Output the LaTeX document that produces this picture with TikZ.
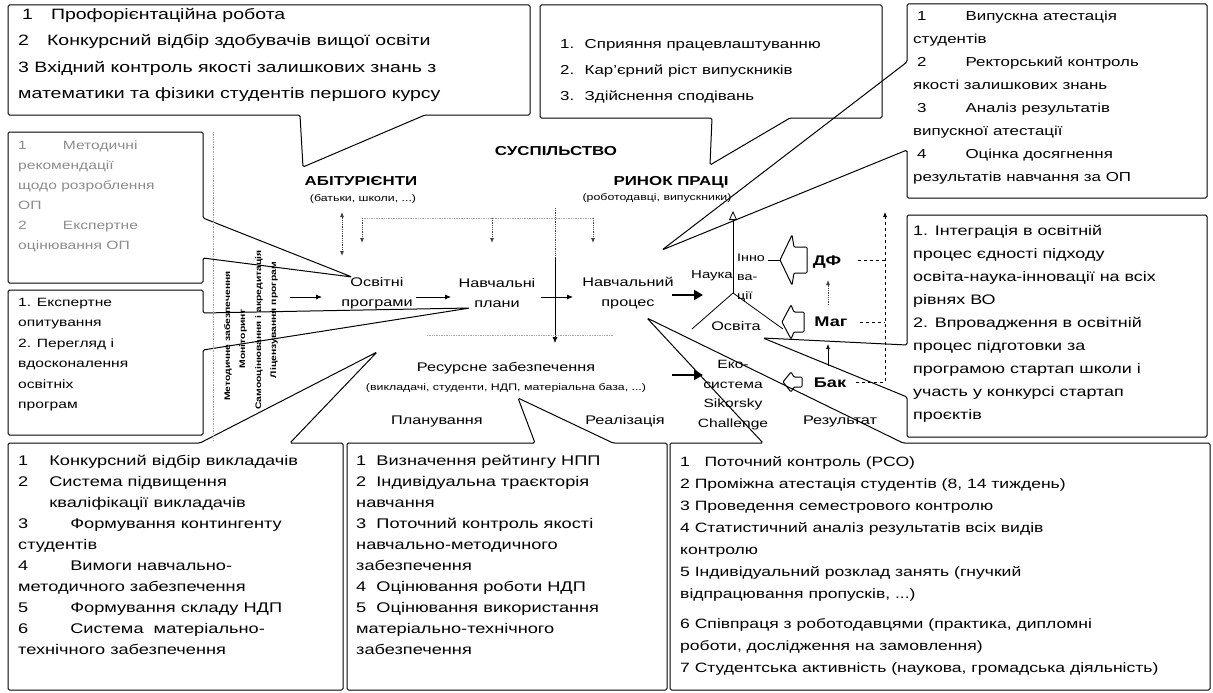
\documentclass[tikz,border=0pt]{standalone}
\usepackage{fontspec}
\setmainfont{Liberation Sans}
\newfontfamily\scanfont[FakeStretch=1.3]{Liberation Sans}
\usetikzlibrary{arrows.meta}
\begin{document}
\begin{tikzpicture}[x=1pt,y=-1pt,
  callout/.style={draw=black, line width=1pt, rounded corners=1.5pt},
  boxtext/.style={anchor=north west, inner sep=0pt, align=left, font=\scanfont\fontsize{14}{21}\selectfont},
  lbl/.style={inner sep=0pt, font=\scanfont\bfseries\fontsize{13}{15}\selectfont},
  biglbl/.style={inner sep=0pt, font=\scanfont\bfseries\fontsize{14}{16}\selectfont},
  smalltxt/.style={inner sep=0pt, font=\scanfont\fontsize{9.5}{11}\selectfont},
  proc/.style={inner sep=0pt, align=center, font=\scanfont\fontsize{12.5}{20}\selectfont},
  vtxt/.style={inner sep=0pt, rotate=90, font=\scanfont\bfseries\fontsize{8}{9}\selectfont},
  flow/.style={-{Latex[length=6pt,width=5pt]}, line width=0.8pt},
  fat/.style={-{Triangle[length=9pt,width=10pt]}, line width=2.6pt},
  dots/.style={densely dotted, line width=0.8pt, black!75},
  faint/.style={densely dotted, line width=0.7pt, black!35},
  dsh/.style={dashed, line width=0.7pt}]
\useasboundingbox (0,0) rectangle (1213,693);
\fill[white] (0,0) rectangle (1213,693);

% ---------- callout boxes ----------
\draw[callout] (8,5) -- (530,5) -- (530,115) -- (425,115) -- (303,167) -- (300,115) -- (8,115) -- cycle;
\draw[callout] (540,5) -- (882,5) -- (882,118) -- (790,118) -- (710,165) -- (712,118) -- (540,118) -- cycle;
\draw[callout] (907,4) -- (1207,4) -- (1207,198) -- (907,198) -- (907,150) -- (662,250) -- (907,62) -- cycle;
\draw[callout] (907,215) -- (1207,215) -- (1207,437) -- (907,437) -- (907,397) -- (763,338) -- (907,345) -- cycle;
\draw[callout] (8,132) -- (203,132) -- (203,218) -- (352,277) -- (203,258) -- (203,283) -- (8,283) -- cycle;
\draw[callout] (8,290) -- (203,290) -- (203,313) -- (470,308) -- (203,350) -- (203,435) -- (8,435) -- cycle;
\draw[callout] (8,443) -- (200,443) -- (377,352) -- (290,443) -- (343,443) -- (343,690) -- (8,690) -- cycle;
\draw[callout] (347,443) -- (535,443) -- (518,398) -- (613,443) -- (667,443) -- (667,690) -- (347,690) -- cycle;
\draw[callout] (670,443) -- (763,443) -- (647,318) -- (903,443) -- (1210,443) -- (1210,690) -- (670,690) -- cycle;

% ---------- box texts ----------
\node[boxtext, font=\scanfont\fontsize{15}{26.5}\selectfont] (tlt) at (18,8)
 {\hspace*{4pt}1\hspace{1.2em}Профорієнтаційна робота\\
  2\hspace{1.2em}Конкурсний відбір здобувачів вищої освіти\\
  3\ Вхідний контроль якості залишкових знань з\\
  математики та фізики студентів першого курсу};
\node[boxtext, font=\scanfont\fontsize{13}{26}\selectfont] (tmt) at (560,39)
 {1.\hspace{0.8em}Сприяння працевлаштуванню\\
  2.\hspace{0.8em}Кар’єрний ріст випускників\\
  3.\hspace{0.8em}Здійснення сподівань};
\node[boxtext, font=\scanfont\fontsize{13}{23}\selectfont] (trt) at (913,11)
 {\hspace*{4pt}1\hspace{3em}Випускна атестація\\
  студентів\\
  \hspace*{4pt}2\hspace{3em}Ректорський контроль\\
  якості залишкових знань\\
  \hspace*{4pt}3\hspace{3em}Аналіз результатів\\
  випускної атестації\\
  \hspace*{4pt}4\hspace{3em}Оцінка досягнення\\
  результатів навчання за ОП};
\node[boxtext, font=\scanfont\fontsize{13.8}{23}\selectfont] (rmt) at (913,225)
 {1. Інтеграція в освітній\\
  процес єдності підходу\\
  освіта-наука-інновації на всіх\\
  рівнях ВО\\
  2. Впровадження в освітній\\
  процес підготовки за\\
  програмою стартап школи і\\
  участь у конкурсі стартап\\
  проєктів};
\node[boxtext, text=black!45, font=\scanfont\fontsize{12}{20}\selectfont] (l1t) at (18,141)
 {1\hspace{3em}Методичні\\
  рекомендації\\
  щодо розроблення\\
  ОП\\
  2\hspace{3em}Експертне\\
  оцінювання ОП};
\node[boxtext, font=\scanfont\fontsize{12}{20.5}\selectfont] (l2t) at (18,298)
 {1. Експертне\\
  опитування\\
  2. Перегляд і\\
  вдосконалення\\
  освітніх\\
  програм};
\node[boxtext] (blt) at (18,455)
 {1\hspace{1.5em}Конкурсний відбір викладачів\\
  2\hspace{1.5em}Система підвищення\\
  \phantom{2}\hspace*{1.5em}кваліфікації викладачів\\
  3\hspace{3em}Формування контингенту\\
  студентів\\
  4\hspace{3em}Вимоги навчально-\\
  методичного забезпечення\\
  5\hspace{3em}Формування складу НДП\\
  6\hspace{3em}Система\ \ матеріально-\\
  технічного забезпечення};
\node[boxtext] (bmt) at (356,455)
 {1\ \ Визначення рейтингу НПП\\
  2\ \ Індивідуальна траєкторія\\
  навчання\\
  3\ \ Поточний контроль якості\\
  навчально-методичного\\
  забезпечення\\
  4\ \ Оцінювання роботи НДП\\
  5\ \ Оцінювання використання\\
  матеріально-технічного\\
  забезпечення};
\node[boxtext, font=\scanfont\fontsize{13.5}{22}\selectfont] (brt) at (680,456)
 {1\ \ \ Поточний контроль (РСО)\\
  2 Проміжна атестація студентів (8, 14 тиждень)\\
  3 Проведення семестрового контролю\\
  4 Статистичний аналіз результатів всіх видів\\
  контролю\\
  5 Індивідуальний розклад занять (гнучкий\\
  відпрацювання пропусків, ...)\\[8pt]
  6 Співпраця з роботодавцями (практика, дипломні\\
  роботи, дослідження на замовлення)\\
  7 Студентська активність (наукова, громадська діяльність)};

% ---------- central labels ----------
\node[lbl] (susp) at (556,151) {СУСПІЛЬСТВО};
\node[lbl] (abit) at (361,181) {АБІТУРІЄНТИ};
\node[smalltxt] (abitp) at (363,199) {(батьки, школи, ...)};
\node[lbl] (rynok) at (671,182) {РИНОК ПРАЦІ};
\node[smalltxt] (rynokp) at (657,198) {(роботодавці, випускники)};
\node[proc] (op) at (377,293) {Освітні\\програми};
\node[proc] (np) at (497,293) {Навчальні\\плани};
\node[proc] (npr) at (628,293) {Навчальний\\процес};
\node[proc, font=\scanfont\fontsize{11.5}{14}\selectfont] (nauka) at (712,276) {Наука};
\node[anchor=north west, inner sep=0pt, align=left, font=\scanfont\fontsize{11}{19}\selectfont] (inno) at (737,254) {Інно\\ва-\\ції};
\node[proc] (osvita) at (736,326) {Освіта};
\node[biglbl] (df) at (827,262) {ДФ};
\node[biglbl] (mag) at (831,322) {Маг};
\node[biglbl] (bak) at (830,383) {Бак};
\node[proc, font=\scanfont\fontsize{12}{19.5}\selectfont] (eko) at (733,395) {Еко-\\система\\Sikorsky\\Challenge};
\node[proc] (res) at (506,368) {Ресурсне забезпечення};
\node[smalltxt] (resp) at (506,388) {(викладачі, студенти, НДП, матеріальна база, ...)};
\node[proc] (plan) at (437,421) {Планування};
\node[proc] (real) at (625,421) {Реалізація};
\node[proc] (rez) at (840,421) {Результат};

% vertical labels in the left column
\node[vtxt] (v1) at (228,336) {Методичне забезпечення};
\node[vtxt] (v2) at (243,339) {Моніторинг};
\node[vtxt] (v3) at (259,330) {Самооцінювання і акредитація};
\node[vtxt] (v4) at (274,320) {Ліцензування програм};
\draw[faint] (213,132) -- (213,440);

% ---------- connectors ----------
\coordinate (opin0) at (290,297);
\coordinate (opin1) at (322,297);
\draw[flow] (opin0) -- (opin1);
\coordinate (a1s) at (416,297);
\coordinate (a1e) at (451,297);
\draw[flow] (a1s) -- (a1e);
\coordinate (a2s) at (541,297);
\coordinate (a2e) at (573,297);
\draw[flow] (a2s) -- (a2e);
\coordinate (a3s) at (672,295);
\coordinate (a3e) at (703,295);
\draw[fat] (a3s) -- (a3e);
\coordinate (a4s) at (672,375);
\coordinate (a4e) at (703,375);
\draw[fat] (a4s) -- (a4e);

% vertical line to resources
\coordinate (vtop) at (555,208);
\coordinate (vmid) at (555,258);
\coordinate (vend) at (555,343);
\draw[dots] (vtop) -- (vmid);
\draw[flow, line width=0.7pt] (vmid) -- (vend);

% dotted links from society
\coordinate (dA) at (342,212);
\coordinate (dB) at (342,256);
\draw[dots, {Latex[length=5pt,width=4pt]}-{Latex[length=5pt,width=4pt]}] (dA) -- (dB);
\coordinate (h1) at (362,218);
\coordinate (h2) at (492,218);
\coordinate (h3) at (593,218);
\draw[faint] (h1) -- (h3);
\coordinate (h1e) at (362,243);
\coordinate (h2e) at (492,243);
\coordinate (h3e) at (593,243);
\draw[dots, -{Latex[length=5pt,width=4pt]}] (h1) -- (h1e);
\draw[dots, -{Latex[length=5pt,width=4pt]}] (h2) -- (h2e);
\draw[dots, -{Latex[length=5pt,width=4pt]}] (h3) -- (h3e);
\coordinate (f1) at (427,335);
\coordinate (f2) at (613,335);
\draw[faint] (f1) -- (f2);

% tripod science / innovation / education
\coordinate (tri) at (733,293);
\coordinate (tritop) at (733,211);
\coordinate (trileft) at (692,329);
\coordinate (triright) at (783,329);
\draw[line width=0.8pt, -{Triangle[open,length=9pt,width=8pt]}] (tri) -- (tritop);
\draw[line width=0.8pt] (tri) -- (trileft);
\draw[line width=0.8pt] (tri) -- (triright);
\coordinate (innoR) at (768,260);
\coordinate (dfTip) at (780,260);
\draw[line width=0.8pt] (innoR) -- (dfTip);

% block arrows (outlines)
\draw[line width=1pt, rounded corners=1pt] (807,247) -- (794,247) -- (792,235) -- (780,260) -- (792,285) -- (794,273) -- (807,273) -- cycle;
\draw[line width=1pt, rounded corners=1pt] (804,312) -- (794,312) -- (791,305) -- (782,322) -- (791,339) -- (794,332) -- (804,332) -- cycle;
\draw[line width=1pt, rounded corners=1pt] (802,377) -- (794,377) -- (791,372) -- (783,382) -- (791,392) -- (794,387) -- (802,387) -- cycle;

% links between degrees
\coordinate (m1) at (828,305);
\coordinate (m2) at (828,280);
\draw[dots, -{Latex[length=5pt,width=4pt]}] (m1) -- (m2);
\coordinate (b1) at (828,366);
\coordinate (b2) at (828,344);
\draw[line width=0.7pt, -{Latex[length=5pt,width=4pt]}] (b1) -- (b2);
\coordinate (r0) at (885,382);
\coordinate (rtop) at (885,212);
\coordinate (rdf) at (858,260);
\coordinate (rdfj) at (885,260);
\coordinate (rmg) at (860,322);
\coordinate (rmgj) at (885,322);
\coordinate (rbk) at (856,382);
\draw[dsh, -{Latex[length=5pt,width=4pt]}] (rbk) -- (r0) -- (rtop);
\draw[dsh] (rdf) -- (rdfj);
\draw[dsh] (rmg) -- (rmgj);
\end{tikzpicture}
\end{document}
